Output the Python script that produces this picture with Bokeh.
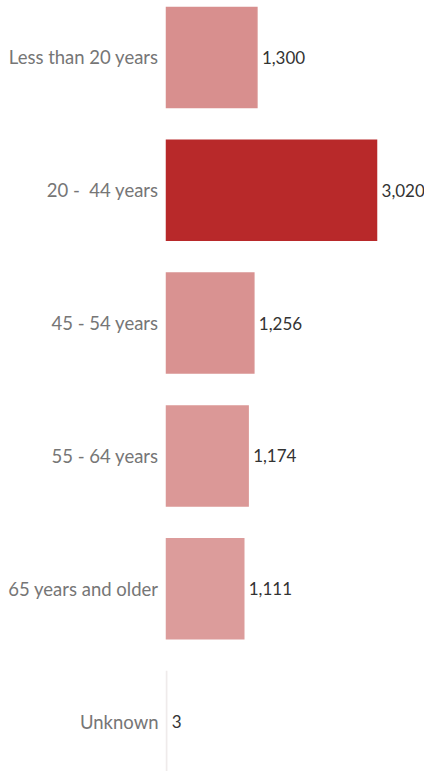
from bokeh.plotting import figure
from bokeh.models import ColumnDataSource, Range1d
from bokeh.core.properties import value
from bokeh.embed import file_html
from bokeh.resources import INLINE

categories = ["Less than 20 years", "20 - \u00a044 years", "45 - 54 years",
              "55 - 64 years", "65 years and older", "Unknown"]
counts = [1300, 3020, 1256, 1174, 1111, 3]
value_labels = ["1,300", "3,020", "1,256", "1,174", "1,111", "3"]
colors = ["#d88f8e", "#b8292a", "#d99291", "#db9897", "#dc9c9b", "#efebeb"]

pos = list(range(len(categories)))
src = ColumnDataSource(dict(cat=categories, val=counts, lab=value_labels,
                            col=colors, y=pos, zero=[0] * len(pos)))

p = figure(width=424, height=771, output_backend="svg", toolbar_location=None,
           x_range=Range1d(-2387, 3710), y_range=Range1d(5.3765, -0.4292),
           min_border=0)
p.axis.visible = False
p.grid.visible = False
p.outline_line_color = None
p.background_fill_color = "white"

p.hbar(y="y", left=0, right="val", height=0.753, fill_color="col",
       line_color="col", line_width=1.5, line_join="miter", source=src)

p.text(x="zero", y="y", text="cat", source=src, x_offset=-8,
       text_align="right", text_baseline="middle", text_font=value("Lato"),
       text_font_size="18.5px", text_color="#767676")
p.text(x="val", y="y", text="lab", source=src, x_offset=5,
       text_align="left", text_baseline="middle", text_font=value("Lato"),
       text_font_size="17px", text_color="#333333")

open("out.html", "w").write(file_html(p, INLINE))
